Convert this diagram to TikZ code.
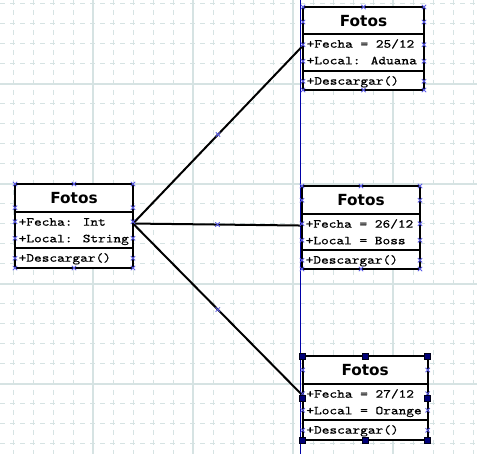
\documentclass[tikz,border=0pt]{standalone}
\usepackage{fontspec}
\usetikzlibrary{calc}
\newfontfamily\hdrfont{DejaVu Sans}
\newfontfamily\codefont{lmmono10-regular}[Extension=.otf, FakeStretch=1.2, FakeBold=0.6]
\definecolor{gridc}{HTML}{D6E3E3}
\definecolor{guidec}{HTML}{0000A8}
\definecolor{markc}{HTML}{5A5AE6}
\definecolor{handlec}{HTML}{000078}

\tikzset{
  griddash/.style={gridc, line width=1pt, dash pattern=on 5pt off 5pt},
  gridsolid/.style={gridc, line width=1.2pt},
  guide/.style={guidec, line width=1pt},
  classframe/.style={draw=black, fill=white, line width=2pt, inner sep=0pt, outer sep=0pt},
  divider/.style={black, line width=2pt},
  titletext/.style={font=\hdrfont\bfseries\fontsize{15.3}{17}\selectfont, inner sep=0pt, anchor=base},
  codetext/.style={font=\codefont\fontsize{12.2}{14}\selectfont, inner sep=0pt, anchor=base west},
  conn/.style={black, line width=2pt},
  xmk/.pic={\draw[markc, line width=0.8pt] (-2.2,-2.2) -- (2.2,2.2) (-2.2,2.2) -- (2.2,-2.2);},
  handle/.pic={\draw[black!80!handlec, fill=handlec, line width=0.6pt] (-3,-3) rectangle (3,3);},
}

% One class box: name, x, y, width, header / attribute / operation heights, two attributes
\newcommand\fotosclass[9]{%
  \node[classframe, minimum width=#4, minimum height=#5+#6+#7, anchor=north west] (#1) at (#2,#3) {};
  \draw[divider] ($(#1.north west)+(0,#5)$) -- ($(#1.north east)+(0,#5)$);
  \draw[divider] ($(#1.north west)+(0,#5+#6)$) -- ($(#1.north east)+(0,#5+#6)$);
  \node[titletext] (#1-t) at ($(#1.north)+(0,19.3)$) {Fotos};
  \node[codetext] (#1-a) at ($(#1.north west)+(3.5,#5+13.7)$) {#8};
  \node[codetext] (#1-b) at ($(#1.north west)+(3.5,#5+30.3)$) {#9};
  \node[codetext] (#1-o) at ($(#1.north west)+(3.5,#5+#6+13.7)$) {+Descargar()};
}

% Small edit marks along the outline of a class box
\newcommand\edgemarks[2]{%
  \foreach \a in {north west, north, north east, south west, south, south east}
    {\pic at (#1.\a) {xmk};}
  \foreach \d in {#2, 37.7, 54.3, 74.3}
    {\pic at ($(#1.north west)+(0,\d)$) {xmk}; \pic at ($(#1.north east)+(0,\d)$) {xmk};}
}

\begin{document}
\begin{tikzpicture}[x=1pt, y=-1pt]
  \useasboundingbox (0,0) rectangle (477,454);
  \fill[white] (0,0) rectangle (477,454);

  % background grid
  \foreach \k in {0,...,23} {\draw[griddash] ({13+20*\k},0) -- ({13+20*\k},454);}
  \foreach \k in {0,...,22} {\draw[griddash] (0,{4+20*\k}) -- (477,{4+20*\k});}
  \foreach \v in {93,193,293,393} {\draw[gridsolid] (\v,0) -- (\v,454);}
  \foreach \v in {84,184,284,384} {\draw[gridsolid] (0,\v) -- (477,\v);}

  % vertical alignment guide
  \draw[guide] (300.5,0) -- (300.5,454);

  % classes
  \fotosclass{base}{15}{184}{118}{28}{36}{20}{+Fecha: Int}{+Local: String}
  \fotosclass{fa}{303}{7}{121}{27}{37}{19}{+Fecha = 25/12}{+Local: Aduana}
  \fotosclass{fb}{302}{186}{118}{28}{36}{19}{+Fecha = 26/12}{+Local = Boss}
  \fotosclass{fc}{302.7}{356}{125}{28}{36}{20}{+Fecha = 27/12}{+Local = Orange}

  % connector end points on the attribute rows
  \coordinate (src) at (base-a.mid -| base.east);
  \coordinate (dsta) at (fa-a.mid -| fa.west);
  \coordinate (dstb) at (fb-a.mid -| fb.west);
  \coordinate (dstc) at (fc-a.mid -| fc.west);

  \draw[conn] (src) -- (dsta);
  \draw[conn] (src) -- (dstb);
  \draw[conn] (src) -- (dstc);

  \pic at ($(src)!0.5!(dsta)$) {xmk};
  \pic at ($(src)!0.5!(dstb)$) {xmk};
  \pic at ($(src)!0.5!(dstc)$) {xmk};

  \edgemarks{base}{23.7}
  \edgemarks{fa}{15}
  \edgemarks{fb}{14.3}
  \edgemarks{fc}{14}

  % selection handles of the active box
  \foreach \a in {north west, north, north east, west, east, south west, south, south east}
    {\pic at (fc.\a) {handle};}
\end{tikzpicture}
\end{document}
